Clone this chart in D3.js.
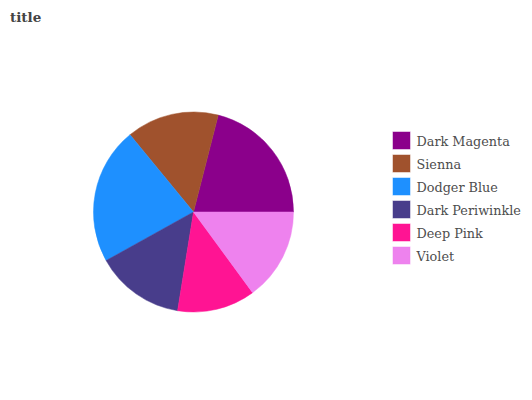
<!DOCTYPE html>
<html><head><meta charset="utf-8">
<script src="https://cdn.jsdelivr.net/npm/d3@7"></script>
<style>body{margin:0;background:#fff}</style>
</head><body>
<svg id="c" width="532" height="400"></svg>
<script>
const categories = ["Dark Magenta","Sienna","Dodger Blue","Dark Periwinkle","Deep Pink","Violet"];
const values = [19, 13.5, 20, 13, 11.4, 13.5];
const colors = ["#8b008b","#a0522d","#1e90ff","#483d8b","#ff1493","#ee82ee"];

const svg = d3.select("#c");
svg.append("text").attr("x",10).attr("y",22)
  .attr("font-family","DejaVu Serif").attr("font-weight","bold").attr("font-size",13.5)
  .attr("fill","#444").text("title");

const data = categories.map((c,i)=>({name:c,value:values[i],color:colors[i]}));
const pie = d3.pie().sort(null).value(d=>d.value)
  .startAngle(Math.PI/2).endAngle(Math.PI/2 - 2*Math.PI);
const arc = d3.arc().innerRadius(0).outerRadius(100);
const g = svg.append("g").attr("transform","translate(193.5,212)");
g.selectAll("path").data(pie(data)).join("path")
  .attr("d",arc).attr("fill",d=>d.data.color)
  .attr("stroke",d=>d.data.color).attr("stroke-width",0.5);

const lg = svg.append("g").attr("transform","translate(393,132)");
const items = lg.selectAll("g").data(data).join("g")
  .attr("transform",(d,i)=>`translate(0,${i*23})`);
items.append("rect").attr("width",17).attr("height",17)
  .attr("fill",d=>d.color).attr("stroke",d=>d.color).attr("stroke-opacity",0.5).attr("stroke-width",1);
items.append("text").attr("x",23.5).attr("y",13.5)
  .attr("font-family","DejaVu Serif").attr("font-size",12.8).attr("fill","#4d4d4d")
  .text(d=>d.name);
</script>
</body></html>
